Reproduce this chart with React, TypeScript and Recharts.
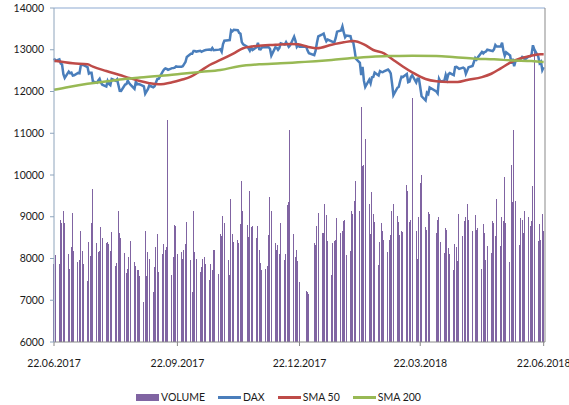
import React from 'react';
import { ComposedChart, Bar, Line, XAxis, YAxis, ReferenceLine } from 'recharts';

const tradingDays = [
	'22.06.2017', '23.06.2017',
	'26.06.2017', '27.06.2017', '28.06.2017', '29.06.2017', '30.06.2017',
	'03.07.2017', '04.07.2017', '05.07.2017', '06.07.2017', '07.07.2017',
	'10.07.2017', '11.07.2017', '12.07.2017', '13.07.2017', '14.07.2017',
	'17.07.2017', '18.07.2017', '19.07.2017', '20.07.2017', '21.07.2017',
	'24.07.2017', '25.07.2017', '26.07.2017', '27.07.2017', '28.07.2017',
	'31.07.2017', '01.08.2017', '02.08.2017', '03.08.2017', '04.08.2017',
	'07.08.2017', '08.08.2017', '09.08.2017', '10.08.2017', '11.08.2017',
	'14.08.2017', '15.08.2017', '16.08.2017', '17.08.2017', '18.08.2017',
	'21.08.2017', '22.08.2017', '23.08.2017', '24.08.2017', '25.08.2017',
	'28.08.2017', '29.08.2017', '30.08.2017', '31.08.2017', '01.09.2017',
	'04.09.2017', '05.09.2017', '06.09.2017', '07.09.2017', '08.09.2017',
	'11.09.2017', '12.09.2017', '13.09.2017', '14.09.2017', '15.09.2017',
	'18.09.2017', '19.09.2017', '20.09.2017', '21.09.2017', '22.09.2017',
	'25.09.2017', '26.09.2017', '27.09.2017', '28.09.2017', '29.09.2017',
	'02.10.2017', '03.10.2017', '04.10.2017', '05.10.2017', '06.10.2017',
	'09.10.2017', '10.10.2017', '11.10.2017', '12.10.2017', '13.10.2017',
	'16.10.2017', '17.10.2017', '18.10.2017', '19.10.2017', '20.10.2017',
	'23.10.2017', '24.10.2017', '25.10.2017', '26.10.2017', '27.10.2017',
	'30.10.2017', '31.10.2017', '01.11.2017', '02.11.2017', '03.11.2017',
	'06.11.2017', '07.11.2017', '08.11.2017', '09.11.2017', '10.11.2017',
	'13.11.2017', '14.11.2017', '15.11.2017', '16.11.2017', '17.11.2017',
	'20.11.2017', '21.11.2017', '22.11.2017', '23.11.2017', '24.11.2017',
	'27.11.2017', '28.11.2017', '29.11.2017', '30.11.2017', '01.12.2017',
	'04.12.2017', '05.12.2017', '06.12.2017', '07.12.2017', '08.12.2017',
	'11.12.2017', '12.12.2017', '13.12.2017', '14.12.2017', '15.12.2017',
	'18.12.2017', '19.12.2017', '20.12.2017', '21.12.2017', '22.12.2017',
	'27.12.2017', '28.12.2017', '29.12.2017',
	'02.01.2018', '03.01.2018', '04.01.2018', '05.01.2018',
	'08.01.2018', '09.01.2018', '10.01.2018', '11.01.2018', '12.01.2018',
	'15.01.2018', '16.01.2018', '17.01.2018', '18.01.2018', '19.01.2018',
	'22.01.2018', '23.01.2018', '24.01.2018', '25.01.2018', '26.01.2018',
	'29.01.2018', '30.01.2018', '31.01.2018', '01.02.2018', '02.02.2018',
	'05.02.2018', '06.02.2018', '07.02.2018', '08.02.2018', '09.02.2018',
	'12.02.2018', '13.02.2018', '14.02.2018', '15.02.2018', '16.02.2018',
	'19.02.2018', '20.02.2018', '21.02.2018', '22.02.2018', '23.02.2018',
	'26.02.2018', '27.02.2018', '28.02.2018', '01.03.2018', '02.03.2018',
	'05.03.2018', '06.03.2018', '07.03.2018', '08.03.2018', '09.03.2018',
	'12.03.2018', '13.03.2018', '14.03.2018', '15.03.2018', '16.03.2018',
	'19.03.2018', '20.03.2018', '21.03.2018', '22.03.2018', '23.03.2018',
	'26.03.2018', '27.03.2018', '28.03.2018', '29.03.2018',
	'03.04.2018', '04.04.2018', '05.04.2018', '06.04.2018',
	'09.04.2018', '10.04.2018', '11.04.2018', '12.04.2018', '13.04.2018',
	'16.04.2018', '17.04.2018', '18.04.2018', '19.04.2018', '20.04.2018',
	'23.04.2018', '24.04.2018', '25.04.2018', '26.04.2018', '27.04.2018',
	'30.04.2018', '02.05.2018', '03.05.2018', '04.05.2018',
	'07.05.2018', '08.05.2018', '09.05.2018', '10.05.2018', '11.05.2018',
	'14.05.2018', '15.05.2018', '16.05.2018', '17.05.2018', '18.05.2018',
	'21.05.2018', '22.05.2018', '23.05.2018', '24.05.2018', '25.05.2018',
	'28.05.2018', '29.05.2018', '30.05.2018', '31.05.2018', '01.06.2018',
	'04.06.2018', '05.06.2018', '06.06.2018', '07.06.2018', '08.06.2018',
	'11.06.2018', '12.06.2018', '13.06.2018', '14.06.2018', '15.06.2018',
	'18.06.2018', '19.06.2018', '20.06.2018', '21.06.2018', '22.06.2018',
];

// volume in million shares
const volume = [
	70, 78,
	70, 110, 107, 118, 107,
	79, 66, 85, 116, 82,
	72, 74, 100, 82, 70,
	55, 90, 77, 107, 137,
	89, 81, 82, 103, 93,
	89, 90, 88, 82, 99,
	68, 71, 118, 98, 93,
	80, 62, 66, 76, 91,
	72, 68, 65, 65, 59,
	36, 100, 59, 81, 75,
	45, 67, 85, 97, 63,
	79, 88, 83, 85, 199,
	60, 76, 105, 104, 79,
	81, 75, 83, 88, 108,
	74, 45, 118, 81, 75,
	63, 67, 75, 76, 70,
	56, 70, 65, 83, 83,
	61, 97, 95, 113, 107,
	74, 60, 128, 97, 90,
	92, 89, 106, 145, 118,
	105, 94, 136, 103, 104,
	93, 104, 83, 71, 65,
	66, 68, 96, 130, 118,
	89, 83, 87, 79, 107,
	74, 79, 123, 126, 190,
	97, 76, 83, 73, 54,
	46, 45, 43,
	89, 87, 104, 116,
	98, 98, 124, 114, 91,
	60, 89, 91, 92, 111,
	98, 100, 109, 110, 78,
	82, 118, 115, 127, 145,
	118, 211, 158, 159, 182,
	124, 97, 135, 115, 108,
	69, 90, 107, 100, 92,
	81, 92, 96, 118, 124,
	113, 108, 96, 100, 99,
	141, 136, 108, 110, 219,
	100, 75, 112, 143, 150,
	103, 101, 117, 115,
	98, 110, 112, 90,
	80, 102, 101, 84, 79,
	65, 88, 85, 73, 115,
	95, 109, 112, 124, 110,
	100, 114, 101, 102,
	66, 106, 98, 74, 86,
	80, 109, 107, 95, 128,
	86, 112, 109, 148, 107,
	72, 159, 126, 190, 127,
	87, 111, 110, 98, 118,
	112, 104, 109, 140, 262,
	91, 106, 92, 115, 100,
];

const dax = [
	12794, 12733,
	12771, 12671, 12647, 12416, 12325,
	12475, 12437, 12453, 12381, 12389,
	12445, 12437, 12627, 12641, 12632,
	12587, 12430, 12447, 12448, 12240,
	12209, 12264, 12305, 12212, 12163,
	12118, 12252, 12182, 12154, 12298,
	12258, 12293, 12154, 12015, 12014,
	12165, 12178, 12263, 12204, 12166,
	12065, 12230, 12174, 12180, 12168,
	12123, 11946, 12002, 12056, 12143,
	12102, 12124, 12215, 12296, 12304,
	12476, 12524, 12554, 12540, 12519,
	12560, 12561, 12570, 12600, 12592,
	12595, 12605, 12657, 12705, 12829,
	12903, 12903, 12970, 12968, 12956,
	12976, 12950, 12970, 12983, 12992,
	13004, 12995, 13043, 12991, 12992,
	13003, 13013, 12953, 13134, 13217,
	13229, 13230, 13465, 13440, 13478,
	13468, 13406, 13382, 13183, 13127,
	13074, 13034, 12977, 13047, 12994,
	13059, 13168, 13015, 13008, 13060,
	13060, 13060, 13061, 13024, 12861,
	13058, 13048, 12999, 13045, 13153,
	13123, 13183, 13126, 13069, 13104,
	13312, 13215, 13070, 13110, 13073,
	13070, 12980, 12918,
	12871, 12979, 13167, 13320,
	13368, 13385, 13282, 13202, 13245,
	13201, 13184, 13183, 13282, 13434,
	13463, 13560, 13415, 13298, 13340,
	13324, 13198, 13189, 13004, 12785,
	12687, 12393, 12590, 12260, 12107,
	12282, 12196, 12339, 12346, 12452,
	12385, 12488, 12470, 12461, 12484,
	12527, 12490, 12436, 12190, 11914,
	12090, 12114, 12245, 12355, 12346,
	12418, 12222, 12237, 12345, 12390,
	12217, 12307, 12309, 12101, 11886,
	11787, 11970, 11940, 12096,
	12002, 11957, 12305, 12241,
	12261, 12397, 12294, 12415, 12442,
	12391, 12585, 12590, 12567, 12540,
	12572, 12550, 12422, 12500, 12580,
	12612, 12802, 12763, 12820,
	12948, 12912, 12943, 12956, 13001,
	12978, 12970, 13011, 13115, 13078,
	13078, 13170, 12977, 12855, 12938,
	12863, 12666, 12783, 12605, 12724,
	12771, 12787, 12830, 12811, 12767,
	12843, 12842, 12890, 13107, 13011,
	12835, 12677, 12711, 12512, 12580,
];

const sma50Days = [
	'22.06.2017', '06.07.2017', '17.07.2017', '21.07.2017', '31.07.2017', '10.08.2017', '18.08.2017',
	'25.08.2017', '01.09.2017', '08.09.2017', '18.09.2017', '25.09.2017', '02.10.2017', '09.10.2017',
	'16.10.2017', '24.10.2017', '03.11.2017', '10.11.2017', '20.11.2017', '04.12.2017', '15.12.2017',
	'21.12.2017', '28.12.2017', '04.01.2018', '15.01.2018', '24.01.2018', '31.01.2018', '08.02.2018',
	'15.02.2018', '23.02.2018', '02.03.2018', '09.03.2018', '16.03.2018', '26.03.2018', '03.04.2018',
	'12.04.2018', '19.04.2018', '26.04.2018', '07.05.2018', '14.05.2018', '21.05.2018', '28.05.2018',
	'05.06.2018', '12.06.2018', '20.06.2018', '22.06.2018',
];
const sma50Values = [
	12735, 12675, 12650, 12594, 12491, 12395, 12316,
	12252, 12200, 12172, 12220, 12280, 12355, 12491,
	12635, 12755, 12915, 13035, 13090, 13118, 13138,
	13130, 13074, 13035, 13120, 13178, 13210, 13130,
	12994, 12915, 12755, 12600, 12460, 12300, 12245,
	12228, 12228, 12276, 12345, 12425, 12555, 12690,
	12795, 12850, 12890, 12890,
];

const sma200Days = [
	'22.06.2017', '03.07.2017', '17.07.2017', '01.08.2017', '10.08.2017', '25.08.2017', '08.09.2017',
	'25.09.2017', '10.10.2017', '24.10.2017', '07.11.2017', '22.11.2017', '08.12.2017', '21.12.2017',
	'03.01.2018', '15.01.2018', '30.01.2018', '14.02.2018', '01.03.2018', '16.03.2018', '03.04.2018',
	'17.04.2018', '02.05.2018', '16.05.2018', '30.05.2018', '13.06.2018', '22.06.2018',
];
const sma200Values = [
	12040, 12110, 12185, 12245, 12290, 12335, 12370,
	12425, 12470, 12515, 12605, 12650, 12675, 12700,
	12725, 12755, 12800, 12835, 12850, 12858, 12850,
	12820, 12785, 12770, 12745, 12730, 12707,
];

const xTickLabels = ['22.06.2017', '22.09.2017', '22.12.2017', '22.03.2018', '22.06.2018'];
const yTicks = [6000, 7000, 8000, 9000, 10000, 11000, 12000, 13000, 14000];
const volumeTicks = [0, 50, 100, 150, 200, 250, 300];

function dayIndex(s: string) {
	const [dd, mm, yy] = s.split('.').map(Number);
	return Math.round((Date.UTC(yy, mm - 1, dd) - Date.UTC(2017, 5, 22)) / 86400000);
}

const xTicks = xTickLabels.map(dayIndex);

const data = tradingDays.map((date, i) => {
	const a = sma50Days.indexOf(date);
	const b = sma200Days.indexOf(date);
	return {
		day: dayIndex(date),
		volume: volume[i],
		dax: dax[i],
		sma50: a >= 0 ? sma50Values[a] : null,
		sma200: b >= 0 ? sma200Values[b] : null,
	};
});

const font = 'Lato, "Open Sans", sans-serif';
const textColor = '#1a1a1a';
const tickStyle = { fontSize: 10.5, fill: textColor, fontFamily: font };

const legendItems = [
	{ name: 'VOLUME', color: '#8064A2', bar: true },
	{ name: 'DAX', color: '#4A7EBB', bar: false },
	{ name: 'SMA 50', color: '#BE4B48', bar: false },
	{ name: 'SMA 200', color: '#98B954', bar: false },
];

export default function App() {
	return (
		<div style={{ position: 'absolute', left: 0, top: 0, width: 569, height: 405, background: '#fff' }}>
			<ComposedChart width={569} height={405} data={data} margin={{ top: 8, right: 0, bottom: 0, left: 0 }}>
				<XAxis
					dataKey="day"
					type="number"
					domain={[0, 366]}
					ticks={xTicks}
					interval={0}
					tickFormatter={(v: number) => xTickLabels[xTicks.indexOf(v)]}
					height={63}
					tick={tickStyle}
					tickSize={4}
					tickMargin={14}
					axisLine={{ stroke: '#898989' }}
					tickLine={{ stroke: '#898989' }}
				/>
				<YAxis
					yAxisId="left"
					domain={[6000, 14000]}
					ticks={yTicks}
					interval={0}
					width={54}
					tick={tickStyle}
					tickSize={4}
					tickMargin={6}
					axisLine={{ stroke: '#8EA4BC' }}
					tickLine={{ stroke: '#8EA4BC' }}
				/>
				<YAxis
					yAxisId="vol"
					orientation="right"
					domain={[0, 300]}
					ticks={volumeTicks}
					interval={0}
					width={24}
					tick={false}
					tickSize={4}
					axisLine={{ stroke: '#898989' }}
					tickLine={{ stroke: '#898989' }}
				/>
				<ReferenceLine yAxisId="left" y={14000} stroke="#B3C6E0" strokeWidth={1.5} />
				<Bar yAxisId="vol" dataKey="volume" fill="#8064A2" barSize={1} shapeRendering="crispEdges" isAnimationActive={false} />
				<Line yAxisId="left" dataKey="dax" stroke="#4A7EBB" strokeWidth={2.5} dot={false} type="linear" isAnimationActive={false} />
				<Line yAxisId="left" dataKey="sma50" stroke="#BE4B48" strokeWidth={2.5} dot={false} type="monotone" connectNulls isAnimationActive={false} />
				<Line yAxisId="left" dataKey="sma200" stroke="#98B954" strokeWidth={2.5} dot={false} type="monotone" connectNulls isAnimationActive={false} />
			</ComposedChart>
			<div style={{ position: 'absolute', left: 136, top: 391, display: 'flex', alignItems: 'center', fontFamily: font, fontSize: 10.5, color: textColor }}>
				{legendItems.map((item) => (
					<div key={item.name} style={{ display: 'flex', alignItems: 'center', marginRight: 13 }}>
						<span style={{ display: 'inline-block', width: 23, height: item.bar ? 7 : 3, background: item.color, marginRight: 2 }} />
						<span>{item.name}</span>
					</div>
				))}
			</div>
		</div>
	);
}
